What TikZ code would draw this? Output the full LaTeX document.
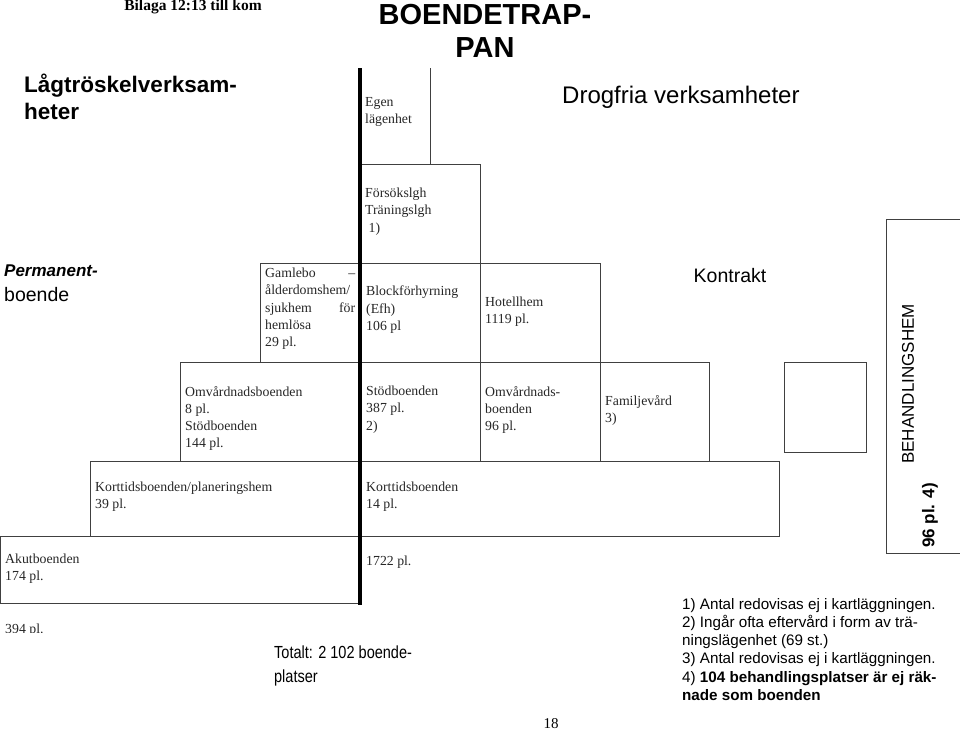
\documentclass[tikz,border=0pt]{standalone}
\usepackage{fontspec}
\setmainfont{Liberation Serif}
\setsansfont{Liberation Sans}
\begin{document}
\begin{tikzpicture}[x=1pt,y=-1pt,
  bx/.style={draw=black!75,line width=0.8pt},
  tx/.style={anchor=north west,align=left,font=\fontsize{13.8}{17.2}\selectfont,text=black!85,inner sep=0pt},
  sf/.style={font=\sffamily\fontsize{#1}{21}\selectfont,inner sep=0pt}]
\useasboundingbox (0,0) rectangle (960,731);
% boxes
\draw[bx] (430,68) -- (430,164);
\draw[bx] (360,164) rectangle (480,263);
\draw[bx] (260,263) rectangle (480,362);
\draw[bx] (480,263) rectangle (600,362);
\draw[bx] (180,362) rectangle (600,461);
\draw[bx] (600,362) rectangle (709,461);
\draw[bx] (480,362) -- (480,461);
\draw[bx] (90,461) rectangle (779,536);
\draw[bx] (0,536) rectangle (360,603);
\draw[bx] (784,362) rectangle (866,452);
\draw[bx] (886,219) -- (886,553) -- (960,553);
\draw[bx] (886,219) -- (960,219);
\coordinate (ltop) at (360,68);
\coordinate (lbot) at (360,605);
\draw[line width=4pt] (ltop) -- (lbot);
% box texts
\node[tx] (egen) at (365,97) {Egen\\lägenhet};
\node[tx] (fors) at (365,188) {Försökslgh\\Träningslgh\\\ 1)};
\node[tx,text width=90pt,align=justify] (gaml) at (265,268) {Gamlebo \hfill –\\ålderdomshem/\\sjukhem \hfill för\\hemlösa\\29 pl.};
\node[tx] (block) at (366,286) {Blockförhyrning\\(Efh)\\106 pl};
\node[tx] (hot) at (485,297) {Hotellhem\\1119 pl.};
\node[tx] (omv1) at (185,386) {Omvårdnadsboenden\\8 pl.\\Stödboenden\\144 pl.};
\node[tx] (stod) at (366,386) {Stödboenden\\387 pl.\\2)};
\node[tx] (omv2) at (485,386) {Omvårdnads-\\boenden\\96 pl.};
\node[tx] (fam) at (605,395) {Familjevård\\3)};
\node[tx] (kort1) at (95,482) {Korttidsboenden/planeringshem\\39 pl.};
\node[tx] (kort2) at (366,482) {Korttidsboenden\\14 pl.};
\node[tx] (akut) at (5,554) {Akutboenden\\174 pl.};
\node[tx] (tot1722) at (366,556) {1722 pl.};
\begin{scope}
\clip (0,615) rectangle (100,632);
\node[tx] (p394) at (5,624) {394 pl.};
\end{scope}
% titles
\node[anchor=north,font=\bfseries\fontsize{15.5}{18}\selectfont,inner sep=0pt] (bil) at (193,0) {Bilaga 12:13 till kom};
\node[font=\bfseries\sffamily\fontsize{29}{33}\selectfont,inner sep=0pt,align=center,anchor=north] (title) at (485,4) {BOENDETRAP-\\PAN};
\node[font=\bfseries\sffamily\fontsize{22.5}{27}\selectfont,inner sep=0pt,align=left,anchor=west] (lag) at (24,97) {Lågtröskelverksam-\\heter};
\node[sf=24,anchor=west] (drog) at (562,97) {Drogfria verksamheter};
\node[font=\bfseries\itshape\sffamily\fontsize{17}{20}\selectfont,inner sep=0pt,anchor=north west] (perm) at (4,265) {Permanent-};
\node[sf=19.5,anchor=north west] (perm2) at (4,287) {boende};
\node[sf=19.5] (kon) at (730,276) {Kontrakt};
\node[sf=17,rotate=90,anchor=west] (beh) at (908,464) {BEHANDLINGSHEM};
\node[font=\bfseries\sffamily\fontsize{17}{18}\selectfont,inner sep=0pt,rotate=90,anchor=west] (p96) at (930,548) {96 pl. 4)};
\node[anchor=north west,align=left,inner sep=0pt,font=\sffamily\fontsize{17.5}{24}\selectfont,xscale=0.83,transform shape] (tot) at (274,646) {Totalt: 2 102 boende-\\platser};
\node[anchor=north west,align=left,inner sep=0pt,font=\sffamily\fontsize{15.2}{18.2}\selectfont] (fn) at (682,598) {1) Antal redovisas ej i kartläggningen.\\2) Ingår ofta eftervård i form av trä-\\ningslägenhet (69 st.)\\3) Antal redovisas ej i kartläggningen.\\4) \textbf{104 behandlingsplatser är ej räk-}\\\textbf{nade som boenden}};
\node[font=\fontsize{15}{16}\selectfont,inner sep=0pt] (pg) at (551,724) {18};
\end{tikzpicture}
\end{document}
